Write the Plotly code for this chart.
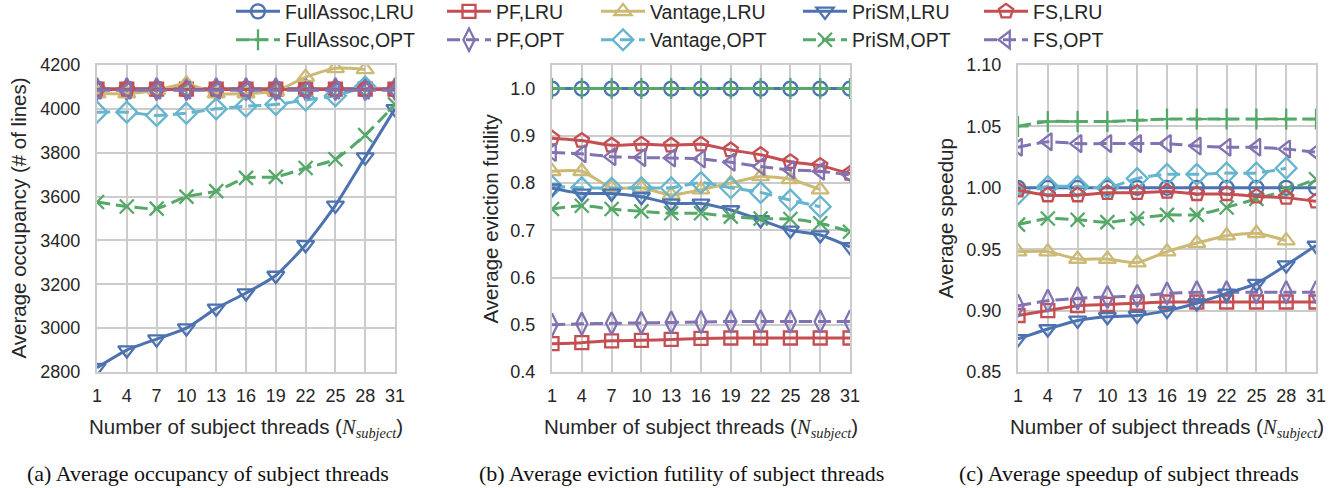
import plotly.graph_objects as go

W, H = 1343, 488

x_threads = [1, 4, 7, 10, 13, 16, 19, 22, 25, 28, 31]
x_vantage = [1, 4, 7, 10, 13, 16, 19, 22, 25, 28]

# (a) Average occupancy (# of lines)
occ_fullassoc_lru = [4090, 4090, 4090, 4090, 4090, 4090, 4090, 4090, 4090, 4090, 4090]
occ_fullassoc_opt = [4090, 4090, 4090, 4090, 4090, 4090, 4090, 4090, 4090, 4090, 4090]
occ_pf_lru = [4090, 4090, 4090, 4090, 4090, 4090, 4090, 4090, 4090, 4090, 4090]
occ_pf_opt = [4090, 4090, 4090, 4090, 4090, 4090, 4090, 4090, 4090, 4090, 4090]
occ_vantage_lru = [4070, 4070, 4085, 4115, 4070, 4070, 4080, 4145, 4185, 4180]
occ_vantage_opt = [3985, 3985, 3970, 3980, 4000, 4012, 4020, 4040, 4060, 4100]
occ_prism_lru = [2820, 2900, 2950, 3000, 3090, 3160, 3240, 3380, 3560, 3780, 4000]
occ_prism_opt = [3575, 3555, 3545, 3600, 3625, 3685, 3690, 3730, 3770, 3880, 4020]
occ_fs_lru = [4088, 4088, 4088, 4088, 4088, 4088, 4088, 4088, 4088, 4088, 4088]
occ_fs_opt = [4085, 4085, 4085, 4085, 4085, 4085, 4085, 4085, 4085, 4085, 4085]

# (b) Average eviction futility
fut_fullassoc_lru = [1.0, 1.0, 1.0, 1.0, 1.0, 1.0, 1.0, 1.0, 1.0, 1.0, 1.0]
fut_fullassoc_opt = [1.0, 1.0, 1.0, 1.0, 1.0, 1.0, 1.0, 1.0, 1.0, 1.0, 1.0]
fut_pf_lru = [0.460, 0.462, 0.466, 0.467, 0.469, 0.471, 0.472, 0.472, 0.472, 0.472, 0.472]
fut_pf_opt = [0.500, 0.502, 0.503, 0.504, 0.505, 0.506, 0.507, 0.507, 0.507, 0.507, 0.507]
fut_vantage_lru = [0.825, 0.825, 0.790, 0.790, 0.775, 0.786, 0.800, 0.814, 0.808, 0.786]
fut_vantage_opt = [0.793, 0.790, 0.789, 0.790, 0.790, 0.801, 0.790, 0.780, 0.764, 0.750]
fut_prism_lru = [0.789, 0.778, 0.778, 0.771, 0.757, 0.757, 0.743, 0.722, 0.700, 0.690, 0.665]
fut_prism_opt = [0.745, 0.752, 0.745, 0.740, 0.736, 0.736, 0.729, 0.725, 0.724, 0.715, 0.697]
fut_fs_lru = [0.895, 0.890, 0.880, 0.882, 0.880, 0.882, 0.870, 0.860, 0.845, 0.837, 0.820]
fut_fs_opt = [0.865, 0.862, 0.856, 0.854, 0.853, 0.851, 0.844, 0.835, 0.828, 0.825, 0.817]

# (c) Average speedup
spd_fullassoc_lru = [1.0, 1.0, 1.0, 1.0, 1.0, 1.0, 1.0, 1.0, 1.0, 1.0, 1.0]
spd_fullassoc_opt = [1.050, 1.054, 1.054, 1.054, 1.055, 1.056, 1.056, 1.056, 1.056, 1.056, 1.056]
spd_pf_lru = [0.896, 0.900, 0.904, 0.905, 0.906, 0.907, 0.907, 0.907, 0.907, 0.907, 0.907]
spd_pf_opt = [0.904, 0.908, 0.910, 0.911, 0.912, 0.914, 0.915, 0.915, 0.915, 0.915, 0.915]
spd_vantage_lru = [0.948, 0.948, 0.942, 0.942, 0.939, 0.948, 0.955, 0.961, 0.963, 0.957]
spd_vantage_opt = [0.995, 1.001, 1.001, 1.000, 1.0076, 1.011, 1.011, 1.012, 1.012, 1.016]
spd_prism_lru = [0.877, 0.885, 0.892, 0.895, 0.896, 0.900, 0.906, 0.914, 0.922, 0.937, 0.953]
spd_prism_opt = [0.970, 0.975, 0.974, 0.972, 0.975, 0.978, 0.978, 0.984, 0.991, 0.998, 1.007]
spd_fs_lru = [0.998, 0.994, 0.994, 0.996, 0.996, 0.997, 0.995, 0.995, 0.993, 0.992, 0.989]
spd_fs_opt = [1.033, 1.0375, 1.036, 1.036, 1.036, 1.036, 1.034, 1.033, 1.033, 1.0315, 1.029]

series_names = ["FullAssoc,LRU", "FullAssoc,OPT", "PF,LRU", "PF,OPT", "Vantage,LRU",
                "Vantage,OPT", "PriSM,LRU", "PriSM,OPT", "FS,LRU", "FS,OPT"]

panels = [
    [occ_fullassoc_lru, occ_fullassoc_opt, occ_pf_lru, occ_pf_opt, occ_vantage_lru,
     occ_vantage_opt, occ_prism_lru, occ_prism_opt, occ_fs_lru, occ_fs_opt],
    [fut_fullassoc_lru, fut_fullassoc_opt, fut_pf_lru, fut_pf_opt, fut_vantage_lru,
     fut_vantage_opt, fut_prism_lru, fut_prism_opt, fut_fs_lru, fut_fs_opt],
    [spd_fullassoc_lru, spd_fullassoc_opt, spd_pf_lru, spd_pf_opt, spd_vantage_lru,
     spd_vantage_opt, spd_prism_lru, spd_prism_opt, spd_fs_lru, spd_fs_opt],
]

BLUE, GREEN, RED, PURPLE, YELLOW, CYAN = "#4C72B0", "#55A868", "#C44E52", "#8172B2", "#CCB974", "#64B5CD"
DASH = "13px,6px"
styles = [
    (BLUE, "solid", "circle-open", 14, "legend"),
    (GREEN, DASH, "cross-thin-open", 15, "legend"),
    (RED, "solid", "square-open", 13, "legend2"),
    (PURPLE, DASH, "diamond-tall-open", 16, "legend2"),
    (YELLOW, "solid", "triangle-up-open", 15, "legend3"),
    (CYAN, DASH, "diamond-open", 16, "legend3"),
    (BLUE, "solid", "triangle-down-open", 15, "legend4"),
    (GREEN, DASH, "x-thin-open", 14, "legend4"),
    (RED, "solid", "pentagon-open", 15, "legend5"),
    (PURPLE, DASH, "triangle-left-open", 15, "legend5"),
]

fig = go.Figure()
axes_ids = [("x", "y"), ("x2", "y2"), ("x3", "y3")]
for p, data in enumerate(panels):
    xa, ya = axes_ids[p]
    for i, vals in enumerate(data):
        color, dash, sym, msize, leg = styles[i]
        xs = x_vantage if len(vals) == 10 else x_threads
        fig.add_trace(go.Scatter(
            x=xs, y=vals, name=series_names[i], mode="lines+markers",
            line=dict(color=color, width=3, dash=dash, shape="spline", smoothing=0.6),
            marker=dict(symbol=sym, size=msize, color=color, line=dict(color=color, width=2.3)),
            xaxis=xa, yaxis=ya, legend=leg, showlegend=(p == 0),
        ))

def fx(px):
    return px / W

def fy(py):
    return 1 - py / H

top, bottom = 65, 372
xdoms = [(97, 395), (552, 850), (1018, 1316)]
yranges = [(2800, 4200), (0.4, 1.05), (0.85, 1.10)]
ydticks = [200, 0.1, 0.05]
yfmts = ["d", ".1f", ".2f"]
TXT = "#262626"
GRID = "#cccccc"
tickfont = dict(family="Liberation Sans, Arial", size=18, color=TXT)

layout = dict(
    width=W, height=H, margin=dict(l=0, r=0, t=0, b=0, autoexpand=False),
    paper_bgcolor="white", plot_bgcolor="white", showlegend=True,
)
for p in range(3):
    sfx = "" if p == 0 else str(p + 1)
    layout["xaxis" + sfx] = dict(
        domain=[fx(xdoms[p][0]), fx(xdoms[p][1])], range=[1, 31],
        tickmode="array", tickvals=x_threads, ticktext=[str(v) for v in x_threads],
        showgrid=True, gridcolor=GRID, gridwidth=1.8, zeroline=False,
        showline=True, linecolor=GRID, linewidth=2.2, mirror=True,
        ticks="", tickfont=tickfont, ticklabelstandoff=6,
        anchor="y" + sfx,
    )
    layout["yaxis" + sfx] = dict(
        domain=[fy(bottom), fy(top)], range=list(yranges[p]),
        tick0=yranges[p][0], dtick=ydticks[p], tickformat=yfmts[p],
        showgrid=True, gridcolor=GRID, gridwidth=1.8, zeroline=False,
        showline=True, linecolor=GRID, linewidth=2.2, mirror=True,
        ticks="", tickfont=tickfont, ticklabelstandoff=11,
        anchor="x" + sfx,
    )

legfont = dict(family="Liberation Sans, Arial", size=19.5, color=TXT)
leg_starts = [236, 447, 601, 803, 984]
for k, xs in enumerate(leg_starts):
    key = "legend" if k == 0 else "legend" + str(k + 1)
    layout[key] = dict(
        x=fx(xs - 5), y=1.016, xref="paper", yref="paper",
        xanchor="left", yanchor="top", orientation="v",
        font=legfont, bgcolor="rgba(0,0,0,0)", borderwidth=0,
        itemwidth=44, tracegroupgap=0,
    )

fig.update_layout(**layout)

titlefont = dict(family="Liberation Sans, Arial", size=20.5, color=TXT)
xtitle = ("Number of subject threads (<span style='font-family:Liberation Serif'>"
          "<i>N</i><sub><i>subject</i></sub></span>)")
ytitles = ["Average occupancy (# of lines)", "Average eviction futility", "Average speedup"]
ytitle_x = [18, 490, 945]
captions = ["(a) Average occupancy of subject threads",
            "(b) Average eviction futility of subject threads",
            "(c) Average speedup of subject threads"]
caption_x = [208, 681, 1129]
for p in range(3):
    cx = (xdoms[p][0] + xdoms[p][1]) / 2
    fig.add_annotation(x=fx(cx), y=fy(428), xref="paper", yref="paper", text=xtitle,
                       showarrow=False, font=titlefont, xanchor="center", yanchor="middle")
    fig.add_annotation(x=fx(ytitle_x[p]), y=fy((top + bottom) / 2), xref="paper", yref="paper",
                       text=ytitles[p], textangle=-90, showarrow=False, font=titlefont,
                       xanchor="center", yanchor="middle")
    fig.add_annotation(x=fx(caption_x[p]), y=fy(473), xref="paper", yref="paper", text=captions[p],
                       showarrow=False, xanchor="center", yanchor="middle",
                       font=dict(family="Liberation Serif, Times New Roman", size=22, color="#111111"))

fig.write_html("out.html")
